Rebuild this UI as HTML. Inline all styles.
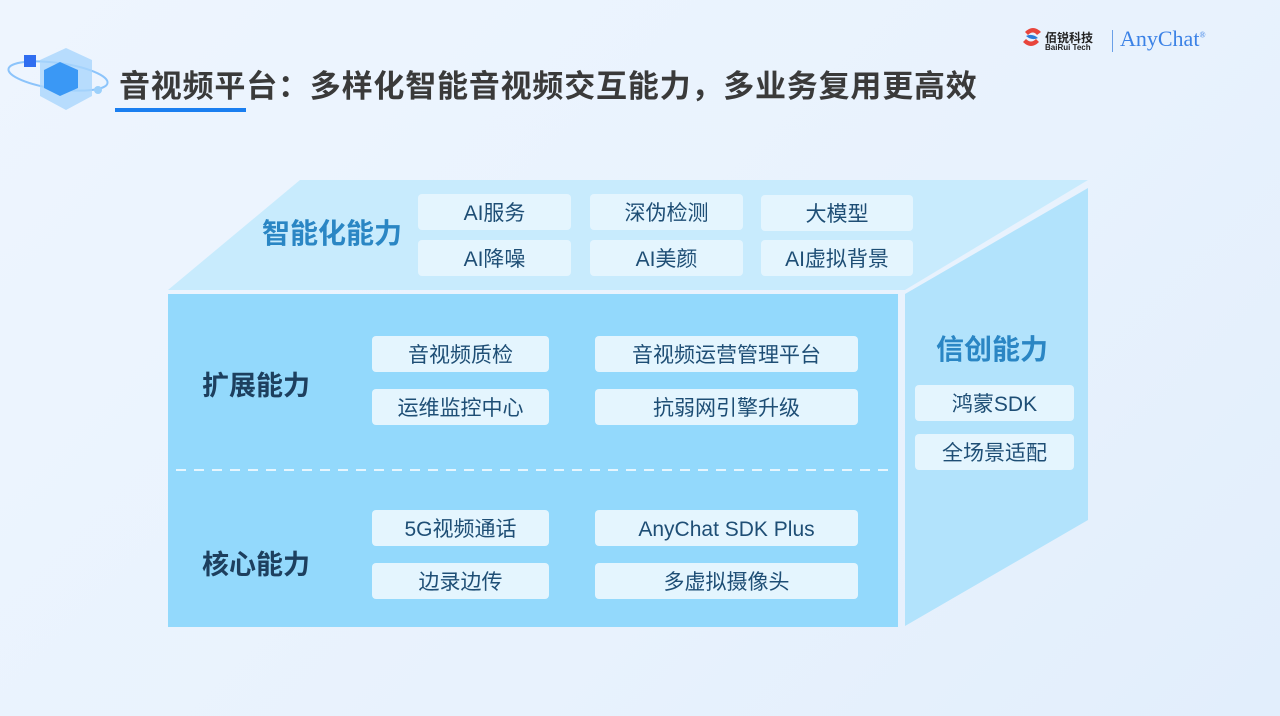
<!DOCTYPE html>
<html><head><meta charset="utf-8"><style>
body{margin:0;width:1280px;height:716px;overflow:hidden;background:linear-gradient(135deg,#eef5fe 0%,#e8f2fd 60%,#e2eefc 100%);font-family:"Liberation Sans","Noto Sans CJK SC",sans-serif;position:relative}
.a{position:absolute}
.b{position:absolute;background:#e4f5fe;border-radius:4px;color:#1e4e75;font-size:21px;text-align:center;line-height:40px;height:36px;overflow:hidden}
.l{position:absolute;font-weight:bold;font-size:27px;color:#1d3f5e}
</style></head><body>
<svg class="a" style="left:0;top:0" width="1280" height="716">
<ellipse cx="58" cy="76" rx="50" ry="13" fill="none" stroke="#8cc4fb" stroke-width="2" transform="rotate(8 58 76)"/>
<polygon points="66,48 92,60 92,96 66,110 40,96 40,60" fill="#a9d6fd" opacity="0.8"/>
<polygon points="60,62 78,70 78,88 60,96 44,88 44,70" fill="#3a98f5"/>
<rect x="24" y="55" width="12" height="12" fill="#2f6df0"/>
<circle cx="98" cy="90" r="4" fill="#9cd0fb"/>
<rect x="115" y="108" width="131" height="4" fill="#1a7ef0"/>
<polygon points="168,290 300,180 1088,180 905,290" fill="#c8ebfd"/>
<polygon points="905,294 1088,188 1088,520 905,626" fill="#b2e3fc"/>
<rect x="168" y="294" width="730" height="333" fill="#93d9fc"/>
<line x1="176" y1="470" x2="888" y2="470" stroke="#e6f6fe" stroke-width="2" stroke-dasharray="10,8"/>
<path d="M1025 32 q8-8 16 0 l-4 3 q-4-5-9 0z M1023 42 q8 8 16 0 l-3-3 q-5 5-10 0z" fill="#e8453c"/>
<path d="M1026 36 q6-3 12 2 q-6 3-12-2z" fill="#2a7bd8"/>
</svg>
<div class="a" style="left:1045px;top:29px;font-size:12px;font-weight:bold;color:#222">佰锐科技</div>
<div class="a" style="left:1045px;top:43px;font-size:8px;font-weight:bold;color:#222">BaiRui Tech</div>
<div class="a" style="left:1112px;top:30px;width:1px;height:22px;background:#6aa0e8"></div>
<div class="a" style="left:1120px;top:26px;font-family:'Liberation Serif',serif;font-size:22px;color:#3b82e6">AnyChat<sup style="font-size:8px">®</sup></div>
<div class="a" style="left:119px;top:61px;font-size:31px;letter-spacing:0.8px;font-weight:bold;color:#3a3a3a;white-space:nowrap">音视频平台：多样化智能音视频交互能力，多业务复用更高效</div>
<div class="l" style="left:262px;top:212px;color:#2a86c4;font-size:28px">智能化能力</div>
<div class="b" style="left:418px;top:194px;width:153px">AI服务</div>
<div class="b" style="left:590px;top:194px;width:153px">深伪检测</div>
<div class="b" style="left:761px;top:195px;width:152px">大模型</div>
<div class="b" style="left:418px;top:240px;width:153px">AI降噪</div>
<div class="b" style="left:590px;top:240px;width:153px">AI美颜</div>
<div class="b" style="left:761px;top:240px;width:152px">AI虚拟背景</div>
<div class="l" style="left:202px;top:364px">扩展能力</div>
<div class="b" style="left:372px;top:336px;width:177px">音视频质检</div>
<div class="b" style="left:595px;top:336px;width:263px">音视频运营管理平台</div>
<div class="b" style="left:372px;top:389px;width:177px">运维监控中心</div>
<div class="b" style="left:595px;top:389px;width:263px">抗弱网引擎升级</div>
<div class="l" style="left:202px;top:543px">核心能力</div>
<div class="b" style="left:372px;top:510px;width:177px">5G视频通话</div>
<div class="b" style="left:595px;top:510px;width:263px">AnyChat SDK Plus</div>
<div class="b" style="left:372px;top:563px;width:177px">边录边传</div>
<div class="b" style="left:595px;top:563px;width:263px">多虚拟摄像头</div>
<div class="l" style="left:936px;top:328px;color:#2a86c4;font-size:28px">信创能力</div>
<div class="b" style="left:915px;top:385px;width:159px">鸿蒙SDK</div>
<div class="b" style="left:915px;top:434px;width:159px">全场景适配</div>
</body></html>
